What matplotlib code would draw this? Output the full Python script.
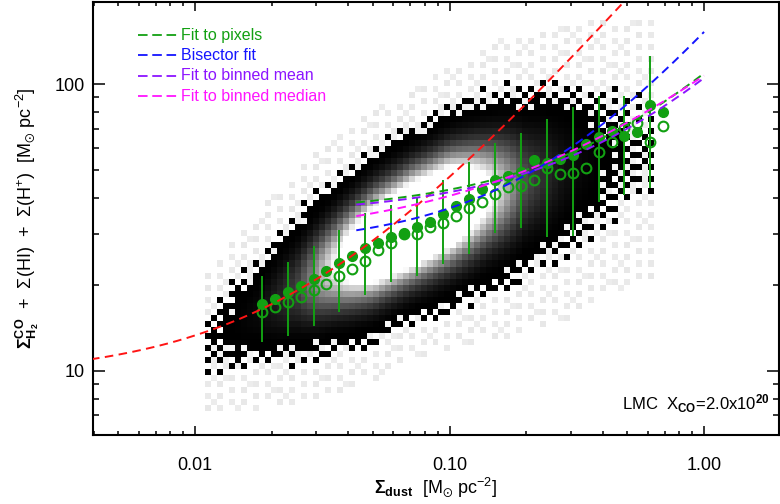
import numpy as np
import matplotlib.pyplot as plt
from matplotlib.ticker import NullFormatter

plt.rcParams['font.family'] = ['Liberation Sans', 'DejaVu Sans']
plt.rcParams['mathtext.fontset'] = 'custom'
plt.rcParams['mathtext.rm'] = 'Liberation Sans'
plt.rcParams['mathtext.it'] = 'Liberation Sans'
plt.rcParams['mathtext.bf'] = 'Liberation Sans:bold'
plt.rcParams['mathtext.fallback'] = 'stixsans'

# binned dust surface density [Msun/pc^2]
bin_x = [0.0183, 0.0206, 0.0231, 0.0260, 0.0292, 0.0328, 0.0369, 0.0415,
         0.0467, 0.0525, 0.0590, 0.0664, 0.0746, 0.0839, 0.0944, 0.1060,
         0.1192, 0.1340, 0.1507, 0.1694, 0.1905, 0.2142, 0.2408, 0.2708,
         0.3045, 0.3424, 0.3850, 0.4329, 0.4867, 0.5473, 0.6154, 0.6920]
# total gas in each bin: mean (filled) and median (open)
mean_gas = [17.1, 17.8, 18.8, 19.8, 20.9, 22.3, 23.7, 25.2,
            26.8, 28.0, 29.4, 30.3, 31.7, 33.1, 35.2, 37.6,
            39.7, 43.1, 46.3, 47.8, 49.5, 54.3, 52.9, 54.7,
            56.6, 61.8, 65.2, 68.6, 65.9, 68.2, 84.5, 79.7]
median_gas = [16.1, 16.7, 17.4, 18.1, 19.1, 20.1, 21.4, 22.6,
              24.2, 26.4, 27.9, 29.9, 29.9, 31.7, 32.9, 34.8,
              37.1, 38.7, 41.5, 43.7, 44.1, 46.3, 50.8, 48.6,
              49.1, 50.8, 57.8, 62.9, 70.1, 73.3, 62.9, 71.4]
# scatter bars, every second bin
bar_lo = [12.6, 13.2, 14.4, 16.0, 18.4, 20.4, 21.5, 23.6,
          25.6, 30.2, 31.4, 29.4, 29.5, 38.9, 41.1, 43.4]
bar_hi = [21.5, 24.0, 27.3, 31.0, 35.4, 37.9, 40.5, 46.3,
          53.6, 62.1, 67.3, 75.5, 83.0, 90.8, 90.8, 125.0]

# fits of the form gas = a + b * dust**n
fit_names = ['Fit to pixels', 'Bisector fit', 'Fit to binned mean', 'Fit to binned median']
fit_colors = ['#12a012', '#1414ff', '#8c14ff', '#ff14ff']
fit_a = [35.5, 27.0, 35.0, 28.3]
fit_b = [73.5, 125.0, 70.0, 78.7]
fit_n = [1.0, 1.1, 1.0, 0.8]
fit_range = [0.043, 1.0]
# red reference relation
ref_a, ref_b = 9.5, 380.0

# pixel cloud along the dust axis (log10 units): ridge, width, peak density
cloud_logx = [-2.00, -1.90, -1.75, -1.60, -1.45, -1.30, -1.15,
              -1.00, -0.85, -0.70, -0.55, -0.40, -0.25]
cloud_ridge = [1.04, 1.12, 1.21, 1.29, 1.37, 1.44, 1.51,
               1.57, 1.62, 1.66, 1.70, 1.74, 1.78]
cloud_width = [0.08, 0.09, 0.10, 0.11, 0.115, 0.12, 0.12,
               0.125, 0.13, 0.14, 0.15, 0.15, 0.15]
cloud_peak = [0.035, 0.07, 0.16, 0.40, 1.00, 1.80, 2.10,
              1.90, 1.10, 0.45, 0.20, 0.09, 0.045]

green = '#12a012'

fig = plt.figure(figsize=(7.8, 5.04), dpi=100)
ax = fig.add_axes([0.1192, 0.1369, 0.8795, 0.8601])
ax.set_xscale('log')
ax.set_yscale('log')

# 2-d histogram of pixels
gx = np.arange(-1.96, -0.19, 0.0235)
gy = np.arange(0.86, 2.31, 0.021)
cx = 0.5 * (gx[1:] + gx[:-1])
cy = 0.5 * (gy[1:] + gy[:-1])
ridge = np.interp(cx, cloud_logx, cloud_ridge)
width = np.interp(cx, cloud_logx, cloud_width)
peak = np.interp(cx, cloud_logx, cloud_peak)
d = cy[:, None] - ridge[None, :]
dens = peak * np.exp(-0.5 * (d / width) ** 2)
halo = np.minimum(peak, 1.0) ** 0.4 * np.exp(-0.5 * (d / (1.6 * width)) ** 2)

# ordered dither for the sparsely filled outskirts
bayer = np.array([[0, 8, 2, 10], [12, 4, 14, 6], [3, 11, 1, 9], [15, 7, 13, 5]]) / 16 + 1 / 32
iy, ix = np.indices(dens.shape)
bt = bayer[(iy + ix // 4) % 4, (ix + 2 * (iy // 3)) % 4]

t0, t1, tw = 0.09, 0.02, 1.0
shade = np.full(dens.shape, np.nan)
core = dens >= t0
shade[core] = np.clip((dens[core] - t0) / (tw - t0), 0, 1) ** 1.3
edge = (dens < t0) & (dens >= t1)
frac = 0.15 + 0.75 * (dens - t1) / (t0 - t1)
shade[edge & (bt < frac)] = 0.0
light = edge & (bt >= frac) & (bt < frac + 0.25)
shade[light] = 0.9 + 0.07 * bt[light]
outer = (dens < t1) & (halo >= 0.05) & (bt < 0.32)
shade[outer] = 0.9 + 0.08 * bt[outer]
ax.pcolormesh(10 ** gx, 10 ** gy, np.ma.masked_invalid(shade),
              cmap='gray', vmin=0, vmax=1, shading='flat', zorder=1)

# binned points with scatter bars
ax.vlines(bin_x[::2], bar_lo, bar_hi, color=green, lw=1.4, zorder=3)
ax.plot(bin_x, median_gas, 'o', mfc='none', mec=green, mew=1.5, ms=7, zorder=4)
ax.plot(bin_x, mean_gas, 'o', color=green, ms=7, zorder=4)

# fit lines
xr = np.logspace(np.log10(0.0039), 0, 300)
ax.plot(xr, ref_a + ref_b * xr, color='#ff1414', lw=1.4, ls=(0, (4.4, 2.8)), zorder=5)
xf = np.logspace(np.log10(fit_range[0]), np.log10(fit_range[1]), 200)
for a, b, n, c in zip(fit_a, fit_b, fit_n, fit_colors):
    ax.plot(xf, a + b * xf ** n, color=c, lw=1.4, ls=(0, (4.4, 2.8)), zorder=5)

# key in the upper left
for k, (name, c) in enumerate(zip(fit_names, fit_colors)):
    yk = 0.9227 - 0.047 * k
    ax.plot([0.0656, 0.1239], [yk, yk], color=c, lw=1.3, ls=(0, (5.3, 2.6)),
            transform=ax.transAxes, zorder=6)
    ax.text(0.128, yk, name, color=c, fontsize=11.5, va='center', ha='left',
            transform=ax.transAxes, zorder=6)

ax.text(0.771, 0.0715, r'LMC  X$_{\mathbf{CO}}$=2.0x10$^{\mathbf{20}}$', fontsize=12,
        va='center', ha='left', transform=ax.transAxes, zorder=6)

ax.set_xlim(0.00397, 1.97)
ax.set_ylim(5.98, 194)
ax.set_xticks([0.01, 0.1, 1.0])
ax.set_xticklabels(['0.01', '0.10', '1.00'])
ax.set_yticks([10, 100])
ax.set_yticklabels(['10', '100'])
ax.xaxis.set_minor_formatter(NullFormatter())
ax.yaxis.set_minor_formatter(NullFormatter())
ax.tick_params(which='both', direction='in', top=True, right=True, labelsize=13, width=1.1)
ax.tick_params(axis='x', which='major', length=6.2, pad=16)
ax.tick_params(axis='x', which='minor', length=3)
ax.tick_params(axis='y', which='major', length=8.5, pad=6)
ax.tick_params(axis='y', which='minor', length=4)
for s in ax.spines.values():
    s.set_linewidth(1.5)

ax.set_xlabel(r'$\mathbf{\Sigma_{dust}}$  [M$_{\odot}$ pc$^{-2}$]', fontsize=13)
ax.xaxis.label.set_va('center')
ax.xaxis.set_label_coords(0.5, -0.12)
ax.set_ylabel(r'$\mathbf{\Sigma^{CO}_{H_2}}$  +  $\Sigma$(HI)  +  $\Sigma$(H$^{+}$)  [M$_{\odot}$ pc$^{-2}$]',
              fontsize=13)
ax.yaxis.label.set_va('center')
ax.yaxis.set_label_coords(-0.095, 0.5)

fig.savefig('out.png', dpi=100)
